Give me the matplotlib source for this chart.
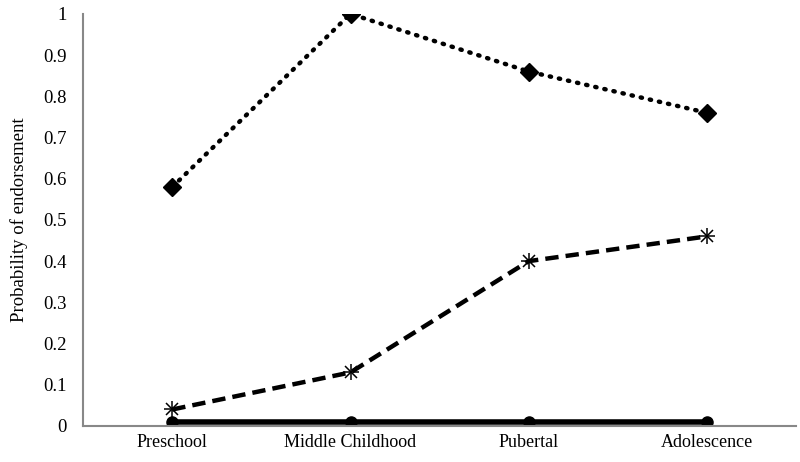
import matplotlib
matplotlib.use("Agg")
import matplotlib.pyplot as plt

categories = ["Preschool", "Middle Childhood", "Pubertal", "Adolescence"]
dotted_vals = [0.58, 1.0, 0.86, 0.76]
dashed_vals = [0.04, 0.13, 0.40, 0.46]
solid_vals = [0.01, 0.01, 0.01, 0.01]
yticks = [0, 0.1, 0.2, 0.3, 0.4, 0.5, 0.6, 0.7, 0.8, 0.9, 1]
ytick_labels = ["0", "0.1", "0.2", "0.3", "0.4", "0.5", "0.6", "0.7", "0.8", "0.9", "1"]

plt.rcParams['font.family'] = ['Liberation Serif', 'DejaVu Serif']

fig = plt.figure(figsize=(8, 4.62), dpi=100)
ax = fig.add_axes([0.104, 0.078, 0.891, 0.892])
x = list(range(len(categories)))

ax.plot(x, solid_vals, color='black', lw=4, marker='o', ms=8, solid_capstyle='butt')
ax.plot(x, dashed_vals, color='black', lw=3.2, linestyle=(0, (3, 1.6)), marker='x', ms=9,
        mew=1.1)
ax.plot(x, dashed_vals, color='black', lw=0, marker='+', ms=11, mew=1.1)
ax.plot(x, dotted_vals, color='black', lw=3.2, linestyle=(0, (0.3, 1.8)), dash_capstyle='round',
        marker='D', ms=9)

ax.set_xlim(-0.5, 3.5)
ax.set_ylim(0, 1)
ax.set_xticks(x)
ax.set_xticklabels(categories, fontsize=13)
ax.set_yticks(yticks)
ax.set_yticklabels(ytick_labels, fontsize=13.5)
ax.tick_params(length=0)
ax.tick_params(axis='y', pad=12)
ax.tick_params(axis='x', pad=6)
for s in ['top', 'right']:
    ax.spines[s].set_visible(False)
for s in ['left', 'bottom']:
    ax.spines[s].set_color('#888888')
    ax.spines[s].set_linewidth(1.5)
ax.set_ylabel("Probability of endorsement", fontsize=13.5, labelpad=11)

fig.savefig("out.png", dpi=100)
